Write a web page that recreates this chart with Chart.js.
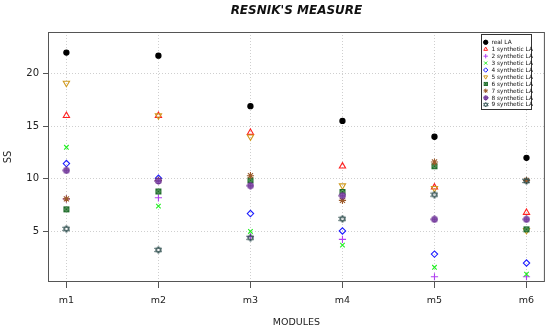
<!DOCTYPE html>
<html lang="en">
<head>
  <meta charset="UTF-8">
  <title>Resnik's Measure</title>
  <script src="https://cdn.jsdelivr.net/npm/chart.js"></script>
  <style>
    body { margin: 0; background: #fff; }
    .chart-container { position: relative; width: 550px; height: 333px; }
  </style>
</head>
<body>
  <div class="chart-container">
    <canvas id="ssChart" width="550" height="333"></canvas>
  </div>

  <script>
    // Modules on the x axis
    const modules = ['m1', 'm2', 'm3', 'm4', 'm5', 'm6'];
    const yTicks = [5, 10, 15, 20];

    // SS values, one array per series
    const realLA = [22.0, 21.7, 16.9, 15.5, 14.0, 12.0];
    const synth1 = [16.0, 16.0, 14.4, 11.2, 9.2, 6.8];
    const synth2 = [8.1, 8.2, 4.5, 4.25, 0.7, 0.7];
    const synth3 = [13.0, 7.4, 5.0, 3.7, 1.6, 0.95];
    const synth4 = [11.45, 10.05, 6.7, 5.05, 2.85, 2.0];
    const synth5 = [19.1, 16.0, 14.0, 9.35, 9.1, 5.1];
    const synth6 = [7.1, 8.8, 9.85, 8.75, 11.2, 5.2];
    const synth7 = [8.1, 9.85, 10.3, 7.95, 11.6, 9.85];
    const synth8 = [10.8, 9.8, 9.35, 8.4, 6.15, 6.15];
    const synth9 = [5.25, 3.25, 4.4, 6.2, 8.5, 9.8];

    const seriesNames = ['real LA', '1 synthetic LA', '2 synthetic LA', '3 synthetic LA', '4 synthetic LA',
      '5 synthetic LA', '6 synthetic LA', '7 synthetic LA', '8 synthetic LA', '9 synthetic LA'];
    const seriesValues = [realLA, synth1, synth2, synth3, synth4, synth5, synth6, synth7, synth8, synth9];

    // small hand-drawn markers for the R symbols chart.js doesn't have
    function makeMarker(kind, stroke, fill) {
      const c = document.createElement('canvas');
      c.width = 8; c.height = 8;
      const g = c.getContext('2d');
      g.strokeStyle = stroke;
      g.lineWidth = 1;
      if (kind === 'squareX') {
        g.fillStyle = fill;
        g.fillRect(1.5, 1.5, 5, 5);
        g.strokeRect(1.5, 1.5, 5, 5);
        g.beginPath();
        g.moveTo(1.5, 1.5); g.lineTo(6.5, 6.5);
        g.moveTo(6.5, 1.5); g.lineTo(1.5, 6.5);
        g.stroke();
      } else if (kind === 'circlePlus') {
        g.fillStyle = fill;
        g.beginPath(); g.arc(4, 4, 3, 0, Math.PI * 2); g.fill(); g.stroke();
        g.beginPath();
        g.moveTo(4, 0.5); g.lineTo(4, 7.5);
        g.moveTo(0.5, 4); g.lineTo(7.5, 4);
        g.stroke();
      } else if (kind === 'david') {
        g.beginPath();
        g.moveTo(4, 0.5); g.lineTo(7.3, 5.8); g.lineTo(0.7, 5.8); g.closePath();
        g.moveTo(4, 7.5); g.lineTo(7.3, 2.2); g.lineTo(0.7, 2.2); g.closePath();
        g.stroke();
      }
      return c;
    }

    const seriesStyles = [
      { color: '#000000', fill: '#000000', style: 'circle', radius: 2.6 },
      { color: '#ff2020', fill: 'rgba(0,0,0,0)', style: 'triangle', radius: 3.6 },
      { color: '#b040f0', fill: 'rgba(0,0,0,0)', style: 'cross', radius: 3.6 },
      { color: '#22ee22', fill: 'rgba(0,0,0,0)', style: 'crossRot', radius: 3.2 },
      { color: '#1a1aff', fill: 'rgba(0,0,0,0)', style: 'rectRot', radius: 3.2 },
      { color: '#d09a20', fill: 'rgba(0,0,0,0)', style: 'triangle', radius: 3.6, rotation: 180 },
      { color: '#1e6b2a', fill: '#5d9a60', style: makeMarker('squareX', '#1e6b2a', '#6fa872'), radius: 3.5 },
      { color: '#9c5a2a', fill: '#9c5a2a', style: 'star', radius: 3.6 },
      { color: '#6a2c91', fill: '#8a5ab5', style: makeMarker('circlePlus', '#6a2c91', '#9a70c0'), radius: 3.5 },
      { color: '#2f4f4f', fill: 'rgba(0,0,0,0)', style: makeMarker('david', '#2f4f4f'), radius: 3.5 }
    ];

    const datasets = seriesValues.map((vals, i) => ({
      label: seriesNames[i],
      data: vals.map((v, j) => ({ x: j + 1, y: v })),
      pointStyle: seriesStyles[i].style,
      pointRadius: seriesStyles[i].radius,
      pointRotation: seriesStyles[i].rotation || 0,
      pointBorderColor: seriesStyles[i].color,
      pointBackgroundColor: seriesStyles[i].fill,
      pointBorderWidth: 1.1,
      showLine: false,
      order: -i // later series drawn on top, like R
    }));

    // title, full box and the small legend inside the plot
    const decorations = {
      id: 'decorations',
      afterDatasetsDraw(chart) {
        const { ctx, chartArea } = chart;
        ctx.save();
        ctx.strokeStyle = '#555';
        ctx.lineWidth = 1;
        ctx.strokeRect(chartArea.left + 0.5, chartArea.top + 0.5,
          chartArea.right - chartArea.left - 1, chartArea.bottom - chartArea.top - 1);

        ctx.fillStyle = '#111';
        ctx.font = 'italic bold 12px "DejaVu Sans"';
        ctx.textAlign = 'center';
        ctx.textBaseline = 'middle';
        ctx.fillText("RESNIK'S MEASURE", (chartArea.left + chartArea.right) / 2, 10.5);

        // legend box
        const bx = 481, by = 34, bw = 50, bh = 75, row = 6.93;
        ctx.fillStyle = '#fff';
        ctx.fillRect(bx, by, bw, bh);
        ctx.strokeStyle = '#333';
        ctx.strokeRect(bx + 0.5, by + 0.5, bw, bh);
        ctx.font = '5.8px "DejaVu Sans"';
        ctx.textAlign = 'left';
        seriesNames.forEach((name, i) => {
          const s = seriesStyles[i];
          const y = 42.3 + i * row;
          if (typeof s.style === 'string') {
            ctx.strokeStyle = s.color;
            ctx.fillStyle = s.fill;
            ctx.lineWidth = 1;
            Chart.helpers.drawPoint(ctx, { pointStyle: s.style, rotation: s.rotation || 0, radius: 2.2, borderWidth: 1 }, 485.7, y);
          } else {
            ctx.drawImage(s.style, 485.7 - 2.8, y - 2.8, 5.6, 5.6);
          }
          ctx.fillStyle = '#111';
          ctx.fillText(name, 491.5, y + 0.3);
        });
        ctx.restore();
      }
    };

    const ctx = document.getElementById('ssChart').getContext('2d');
    new Chart(ctx, {
      type: 'scatter',
      data: { datasets },
      plugins: [decorations],
      options: {
        responsive: false,
        animation: false,
        layout: { padding: { top: 32, right: 4, left: 0, bottom: 0 } },
        plugins: { legend: { display: false }, tooltip: { enabled: false } },
        scales: {
          x: {
            type: 'linear',
            min: 0.8,
            max: 6.2,
            afterBuildTicks: (axis) => { axis.ticks = modules.map((_, i) => ({ value: i + 1 })); },
            afterFit: (axis) => { axis.height = 51; },
            ticks: {
              callback: (v) => modules[v - 1],
              color: '#222',
              font: { family: 'DejaVu Sans', size: 9.5 },
              padding: 7,
              maxRotation: 0
            },
            grid: { color: '#cfcfcf', tickColor: '#555', tickLength: 6, lineWidth: 1 },
            border: { display: false, dash: [1, 2] },
            title: {
              display: true,
              text: 'MODULES',
              color: '#222',
              font: { family: 'DejaVu Sans', size: 9.5 },
              padding: { top: 0, bottom: 5 }
            }
          },
          y: {
            min: 0.2,
            max: 23.95,
            afterBuildTicks: (axis) => { axis.ticks = yTicks.map(v => ({ value: v })); },
            afterFit: (axis) => { axis.width = 48; },
            ticks: {
              color: '#222',
              font: { family: 'DejaVu Sans', size: 10 },
              padding: 4
            },
            grid: { color: '#cfcfcf', tickColor: '#555', tickLength: 5, lineWidth: 1 },
            border: { display: false, dash: [1, 2] },
            title: {
              display: true,
              text: 'SS',
              color: '#222',
              font: { family: 'DejaVu Sans', size: 10 },
              padding: { top: 2, bottom: 0 }
            }
          }
        }
      }
    });
  </script>
</body>
</html>
